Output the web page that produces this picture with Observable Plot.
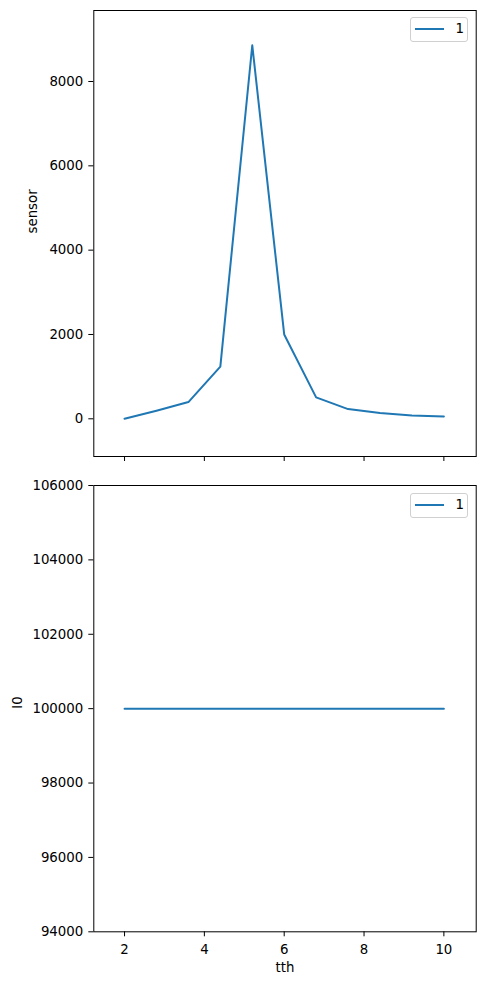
<!DOCTYPE html>
<html>
<head>
<meta charset="utf-8">
<script src="https://cdn.jsdelivr.net/npm/d3@7"></script>
<script src="https://cdn.jsdelivr.net/npm/@observablehq/plot@0.6"></script>
<style>
  html, body { margin: 0; padding: 0; background: white; }
  #wrap { position: relative; width: 485px; font-family: "DejaVu Sans", sans-serif; }
  #wrap svg { display: block; }
  .legend { position: absolute; left: 409.5px; width: 58px; height: 25px; border: 1px solid #d0d0d0; border-radius: 3px; background: rgba(255,255,255,0.8); box-sizing: border-box; }
  .legend .sw { position: absolute; left: 4.5px; top: 10.5px; width: 29px; height: 2px; background: #1f77b4; }
  .legend .lb { position: absolute; left: 45px; top: 3px; font-size: 13.33px; line-height: 16px; color: #000; }
</style>
</head>
<body>
<div id="wrap"></div>
<script>
// ---- data ----
const tth = [2.0, 2.8, 3.6, 4.4, 5.2, 6.0, 6.8, 7.6, 8.4, 9.2, 10.0];
const sensor = [0, 190, 397, 1238, 8860, 2000, 508, 230, 135, 80, 56];
const I0 = [100000, 100000, 100000, 100000, 100000, 100000, 100000, 100000, 100000, 100000, 100000];
const xTicks = [2, 4, 6, 8, 10];
const sensorTicks = [0, 2000, 4000, 6000, 8000];
const i0Ticks = [94000, 96000, 98000, 100000, 102000, 104000, 106000];
const seriesName = "1";
const lineColor = "#1f77b4";

const rowsSensor = tth.map((x, i) => ({tth: x, v: sensor[i]}));
const rowsI0 = tth.map((x, i) => ({tth: x, v: I0[i]}));

const style = {fontFamily: "DejaVu Sans, sans-serif", fontSize: "13.33px", background: "white", color: "black", overflow: "visible"};
const xDomain = [1.23, 10.81];
const fmt = d => String(d);

const topChart = Plot.plot({
  width: 485, height: 470,
  marginLeft: 93.3, marginRight: 9.3, marginTop: 10, marginBottom: 14,
  style,
  x: {domain: xDomain},
  y: {domain: [-894, 9684]},
  marks: [
    Plot.line(rowsSensor, {x: "tth", y: "v", stroke: lineColor, strokeWidth: 2}),
    Plot.frame({stroke: "black", strokeWidth: 1}),
    Plot.axisY(sensorTicks, {tickSize: 5, tickPadding: 5.5, tickFormat: fmt, label: null, strokeWidth: 1}),
    Plot.axisX(xTicks, {tickSize: 5, tickFormat: () => "", label: null, strokeWidth: 1}),
    Plot.text(["sensor"], {frameAnchor: "left", rotate: -90, dx: -61, lineAnchor: "middle", fill: "black"})
  ]
});

const bottomChart = Plot.plot({
  width: 485, height: 514,
  marginLeft: 93.3, marginRight: 9.3, marginTop: 15, marginBottom: 52.7,
  style,
  x: {domain: xDomain},
  y: {domain: [94000, 106000]},
  marks: [
    Plot.line(rowsI0, {x: "tth", y: "v", stroke: lineColor, strokeWidth: 2}),
    Plot.frame({stroke: "black", strokeWidth: 1}),
    Plot.axisY(i0Ticks, {tickSize: 5, tickPadding: 5.5, tickFormat: fmt, label: null, strokeWidth: 1}),
    Plot.axisX(xTicks, {tickSize: 5, tickPadding: 7.5, tickFormat: fmt, label: null, strokeWidth: 1}),
    Plot.text(["I0"], {frameAnchor: "left", rotate: -90, dx: -76, lineAnchor: "middle", fill: "black"}),
    Plot.text(["tth"], {frameAnchor: "bottom", dy: 36.4, lineAnchor: "middle", fill: "black"})
  ]
});

const wrap = document.getElementById("wrap");
wrap.appendChild(topChart);
wrap.appendChild(bottomChart);

function legend(topPx) {
  const d = document.createElement("div");
  d.className = "legend";
  d.style.top = topPx + "px";
  d.innerHTML = '<div class="sw"></div><div class="lb"></div>';
  d.querySelector(".lb").textContent = seriesName;
  wrap.appendChild(d);
}
legend(16.5);
legend(492.5);
</script>
</body>
</html>
